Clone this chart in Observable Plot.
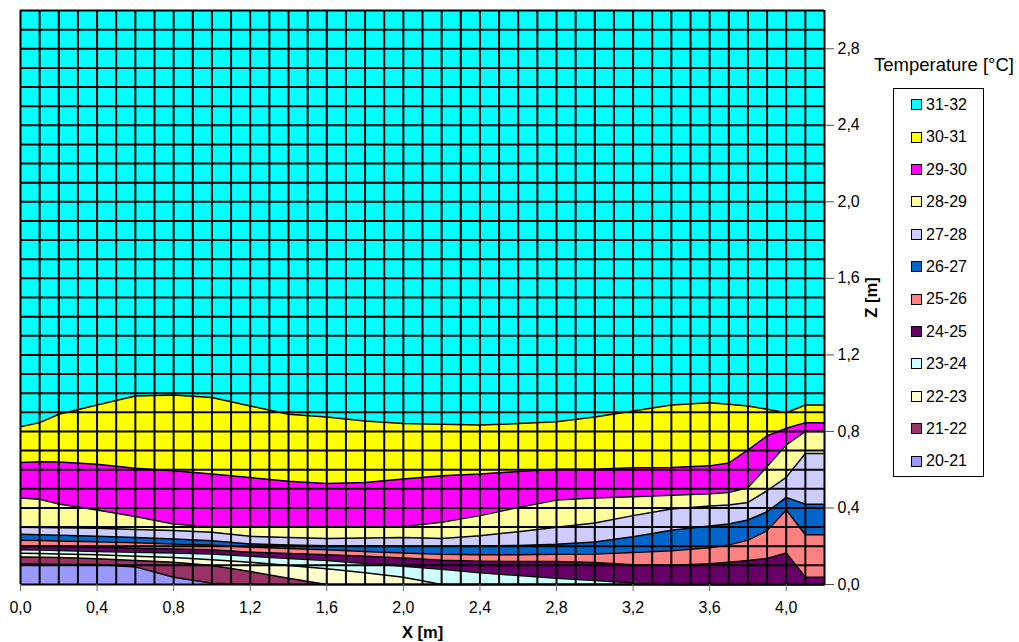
<!DOCTYPE html>
<html><head><meta charset="utf-8">
<script src="https://cdn.jsdelivr.net/npm/d3@7"></script>
<script src="https://cdn.jsdelivr.net/npm/@observablehq/plot@0.6"></script>
<style>
body{margin:0;background:#fff;font-family:"Liberation Sans",Arial,sans-serif;}
#wrap{position:relative;width:1019px;height:642px;overflow:hidden;}
#wrap svg{position:absolute;left:0;top:0;}
.lt{position:absolute;left:864px;width:160px;top:53px;text-align:center;font-size:18.5px;line-height:24px;white-space:nowrap;}
.lb{position:absolute;left:893px;top:88px;width:89px;height:387px;border:1px solid #000;}
.li{position:absolute;left:911px;height:20px;line-height:20px;font-size:16px;white-space:nowrap;}
.sw{display:inline-block;width:9px;height:9px;border:1px solid #000;vertical-align:middle;margin-right:4px;position:relative;top:-1px;}
</style>
</head><body>
<div id="wrap"></div>
<script>
// x knots (m)
const xKnots = [0, 0.1, 0.2, 0.4, 0.6, 0.8, 1.0, 1.2, 1.4, 1.6, 1.8, 2.0, 2.2, 2.4, 2.6, 2.8, 3.0, 3.2, 3.4, 3.6, 3.7, 3.8, 3.9, 4.0, 4.1, 4.2];
// isotherm heights z (m) at the knots
const T21 = [0.108, 0.107, 0.106, 0.104, 0.092, 0.038, 0.007, 0, 0, 0, 0, 0, 0, 0, 0, 0, 0, 0, 0, 0, 0, 0, 0, 0, 0, 0];
const T22 = [0.144, 0.143, 0.141, 0.134, 0.125, 0.116, 0.099, 0.068, 0.033, 0, 0, 0, 0, 0, 0, 0, 0, 0, 0, 0, 0, 0, 0, 0, 0, 0];
const T23 = [0.163, 0.162, 0.16, 0.155, 0.148, 0.141, 0.13, 0.116, 0.099, 0.082, 0.061, 0.038, 0, 0, 0, 0, 0, 0, 0, 0, 0, 0, 0, 0, 0, 0];
const T24 = [0.181, 0.18, 0.178, 0.172, 0.168, 0.165, 0.16, 0.148, 0.136, 0.125, 0.11, 0.095, 0.08, 0.061, 0.047, 0.033, 0.021, 0.008, 0, 0, 0, 0, 0, 0, 0, 0];
const T25 = [0.203, 0.202, 0.2, 0.195, 0.19, 0.186, 0.181, 0.169, 0.162, 0.155, 0.147, 0.138, 0.127, 0.122, 0.12, 0.12, 0.115, 0.103, 0.1, 0.108, 0.116, 0.125, 0.136, 0.165, 0.038, 0.038];
const T26 = [0.231, 0.23, 0.228, 0.224, 0.218, 0.212, 0.207, 0.195, 0.188, 0.181, 0.173, 0.165, 0.158, 0.156, 0.156, 0.158, 0.16, 0.167, 0.176, 0.192, 0.207, 0.232, 0.282, 0.39, 0.26, 0.26];
const T27 = [0.262, 0.26, 0.258, 0.252, 0.245, 0.238, 0.229, 0.212, 0.207, 0.203, 0.201, 0.2, 0.2, 0.201, 0.204, 0.21, 0.222, 0.25, 0.283, 0.306, 0.316, 0.337, 0.38, 0.455, 0.42, 0.42];
const T28 = [0.299, 0.298, 0.297, 0.294, 0.288, 0.282, 0.273, 0.252, 0.245, 0.241, 0.243, 0.245, 0.241, 0.255, 0.276, 0.299, 0.321, 0.36, 0.395, 0.41, 0.416, 0.429, 0.49, 0.56, 0.685, 0.685];
const T29 = [0.452, 0.445, 0.421, 0.389, 0.355, 0.316, 0.3, 0.3, 0.3, 0.3, 0.3, 0.303, 0.325, 0.36, 0.403, 0.441, 0.452, 0.458, 0.466, 0.474, 0.481, 0.507, 0.617, 0.73, 0.8, 0.8];
const T30 = [0.638, 0.641, 0.64, 0.629, 0.608, 0.594, 0.577, 0.559, 0.539, 0.528, 0.533, 0.551, 0.568, 0.577, 0.591, 0.603, 0.603, 0.61, 0.612, 0.62, 0.635, 0.703, 0.777, 0.817, 0.846, 0.846];
const T31 = [0.824, 0.846, 0.89, 0.938, 0.985, 0.99, 0.977, 0.933, 0.89, 0.876, 0.855, 0.841, 0.838, 0.833, 0.841, 0.851, 0.876, 0.907, 0.938, 0.95, 0.942, 0.933, 0.916, 0.898, 0.938, 0.938];

const bandLabels = ["20-21", "21-22", "22-23", "23-24", "24-25", "25-26", "26-27", "27-28", "28-29", "29-30", "30-31", "31-32"];
const bandColors = ["#9999FF", "#993366", "#FFFFCC", "#CCFFFF", "#660066", "#FF8080", "#0066CC", "#CCCCFF", "#FFFF99", "#FF00FF", "#FFFF00", "#00FFFF"];
const xTicks = [0, 0.4, 0.8, 1.2, 1.6, 2.0, 2.4, 2.8, 3.2, 3.6, 4.0];
const zTicks = [0, 0.4, 0.8, 1.2, 1.6, 2.0, 2.4, 2.8];
const xMax = 4.2, zMax = 3.0, gridStep = 0.1;

const isotherms = [T21, T22, T23, T24, T25, T26, T27, T28, T29, T30, T31];
const floor = xKnots.map(() => 0);
const ceil = xKnots.map(() => zMax);
const bounds = [floor, ...isotherms, ceil];

const bandData = [];
bandLabels.forEach((b, i) => {
  xKnots.forEach((x, j) => bandData.push({x, y1: bounds[i][j], y2: bounds[i + 1][j], band: b}));
});
const lineData = [];
isotherms.forEach((arr, k) => {
  xKnots.forEach((x, j) => lineData.push({x, y: arr[j], level: k}));
});
const gridX = d3.range(0, Math.round(xMax / gridStep) + 1).map(i => i / 10);
const gridZ = d3.range(0, Math.round(zMax / gridStep) + 1).map(i => i / 10);
const fmt = d => d.toFixed(1).replace(".", ",");

const chart = Plot.plot({
  width: 1019, height: 642,
  marginLeft: 20, marginRight: 195, marginTop: 10, marginBottom: 58,
  x: {domain: [0, xMax]},
  y: {domain: [0, zMax]},
  color: {domain: bandLabels, range: bandColors},
  style: {fontFamily: "'Liberation Sans', Arial, sans-serif", fontSize: "16px", background: "white", color: "black"},
  marks: [
    Plot.areaY(bandData, {x: "x", y1: "y1", y2: "y2", fill: "band", z: "band", curve: "linear"}),
    Plot.line(lineData, {x: "x", y: "y", z: "level", stroke: "black", strokeWidth: 1.5, curve: "linear"}),
    Plot.ruleX(gridX, {stroke: "black", strokeWidth: 2}),
    Plot.ruleY(gridZ, {stroke: "black", strokeWidth: 2}),
    Plot.axisX({ticks: xTicks, tickFormat: fmt, tickSize: 7, tickPadding: 10, fontSize: 16, label: null, stroke: "#707070"}),
    Plot.axisY({anchor: "right", ticks: zTicks, tickFormat: fmt, tickSize: 9, tickPadding: 4, fontSize: 16, label: null, stroke: "#505050"}),
    Plot.text(["X [m]"], {frameAnchor: "bottom", dy: 48, text: d => d, fontWeight: "bold", fontSize: 16.5, lineAnchor: "middle", textAnchor: "middle"}),
    Plot.text(["Z [m]"], {frameAnchor: "right", dx: 47, text: d => d, rotate: -90, fontWeight: "bold", fontSize: 16.5, textAnchor: "middle", lineAnchor: "middle"})
  ]
});
const wrap = document.getElementById("wrap");
wrap.appendChild(chart);

// legend
const lt = document.createElement("div");
lt.className = "lt"; lt.textContent = "Temperature [°C]";
wrap.appendChild(lt);
const lb = document.createElement("div");
lb.className = "lb";
wrap.appendChild(lb);
bandLabels.slice().reverse().forEach((b, i) => {
  const row = document.createElement("div");
  row.className = "li";
  row.style.top = (95 + 32.4 * i) + "px";
  const sw = document.createElement("span");
  sw.className = "sw";
  sw.style.background = bandColors[bandLabels.indexOf(b)];
  row.appendChild(sw);
  row.appendChild(document.createTextNode(b));
  wrap.appendChild(row);
});
</script>
</body></html>
